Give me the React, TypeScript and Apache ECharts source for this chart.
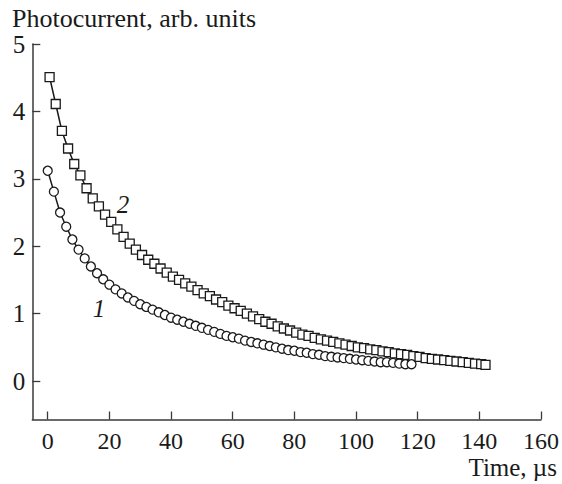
import React, { useEffect, useRef } from "react";
import * as echarts from "echarts";

// Curve 1 (circles): time in µs and photocurrent, arb. units
const curve1Time = [
  0, 2, 4, 6, 8, 10, 12, 14, 16, 18, 20, 22, 24, 26, 28, 30, 32, 34, 36, 38,
  40, 42, 44, 46, 48, 50, 52, 54, 56, 58, 60, 62, 64, 66, 68, 70, 72, 74, 76, 78,
  80, 82, 84, 86, 88, 90, 92, 94, 96, 98, 100, 102, 104, 106, 108, 110, 112, 114, 116, 118,
];
const curve1Current = [
  3.12, 2.81, 2.5, 2.29, 2.1, 1.95, 1.82, 1.7, 1.6, 1.51, 1.43, 1.36, 1.3, 1.24, 1.19, 1.14, 1.1, 1.06, 1.02, 0.98,
  0.94, 0.91, 0.88, 0.85, 0.82, 0.79, 0.76, 0.73, 0.7, 0.67, 0.65, 0.63, 0.6, 0.58, 0.56, 0.54, 0.52, 0.5, 0.48, 0.46,
  0.45, 0.43, 0.42, 0.4, 0.39, 0.37, 0.36, 0.35, 0.34, 0.33, 0.32, 0.31, 0.3, 0.29, 0.28, 0.28, 0.27, 0.26, 0.25, 0.25,
];

// Curve 2 (squares)
const curve2Time = [
  0.6, 2.6, 4.6, 6.6, 8.6, 10.6, 12.6, 14.6, 16.6, 18.6, 20.6, 22.6, 24.6, 26.6, 28.6, 30.6, 32.6, 34.6, 36.6, 38.6,
  40.6, 42.6, 44.6, 46.6, 48.6, 50.6, 52.6, 54.6, 56.6, 58.6, 60.6, 62.6, 64.6, 66.6, 68.6, 70.6, 72.6, 74.6, 76.6, 78.6,
  80.6, 82.6, 84.6, 86.6, 88.6, 90.6, 92.6, 94.6, 96.6, 98.6, 100.6, 102.6, 104.6, 106.6, 108.6, 110.6, 112.6, 114.6, 116.6, 118.6,
  120.6, 122.6, 124.6, 126.6, 128.6, 130.6, 132.6, 134.6, 136.6, 138.6, 140.6, 142,
];
const curve2Current = [
  4.51, 4.11, 3.71, 3.45, 3.22, 3.05, 2.86, 2.71, 2.59, 2.47, 2.36, 2.25, 2.14, 2.04, 1.95, 1.87, 1.8, 1.74, 1.67, 1.61,
  1.55, 1.5, 1.45, 1.4, 1.35, 1.3, 1.26, 1.21, 1.17, 1.12, 1.08, 1.04, 1.0, 0.96, 0.92, 0.88, 0.85, 0.81, 0.78, 0.75,
  0.72, 0.69, 0.67, 0.64, 0.62, 0.6, 0.58, 0.56, 0.54, 0.52, 0.5, 0.49, 0.47, 0.46, 0.44, 0.43, 0.41, 0.4, 0.39, 0.37,
  0.36, 0.34, 0.33, 0.32, 0.31, 0.3, 0.29, 0.28, 0.27, 0.26, 0.25, 0.24,
];

const xTicks = [0, 20, 40, 60, 80, 100, 120, 140, 160];
const yTicks = [0, 1, 2, 3, 4, 5];

const FONT = "Liberation Serif";
const INK = "#1a1a1a";
const AXIS = "#3a3a3a";

export default function App() {
  const ref = useRef<HTMLDivElement>(null);

  useEffect(() => {
    if (!ref.current) return;
    const chart = echarts.init(ref.current, undefined, { renderer: "svg" });

    const markerStyle = {
      color: "#ffffff",
      borderColor: INK,
      borderWidth: 1.3,
    };

    chart.setOption({
      animation: false,
      backgroundColor: "#ffffff",
      grid: { left: 32.3, right: 18.7, top: 44, bottom: 64.5, containLabel: false },
      xAxis: {
        type: "value",
        min: -5,
        max: 160,
        splitLine: { show: false },
        axisLine: { onZero: false, lineStyle: { color: AXIS, width: 1.5 } },
        axisTick: {
          inside: true,
          length: 8,
          customValues: xTicks,
          lineStyle: { color: AXIS, width: 1.3 },
        },
        axisLabel: {
          customValues: xTicks,
          margin: 12,
          lineHeight: 18,
          fontFamily: FONT,
          fontSize: 24,
          color: INK,
        },
      },
      yAxis: {
        type: "value",
        min: -0.57,
        max: 5,
        splitLine: { show: false },
        axisLine: { show: true, onZero: false, lineStyle: { color: AXIS, width: 1.5 } },
        axisTick: {
          show: true,
          inside: true,
          length: 8,
          customValues: yTicks,
          lineStyle: { color: AXIS, width: 1.3 },
        },
        axisLabel: {
          customValues: yTicks,
          margin: 7,
          fontFamily: FONT,
          fontSize: 25,
          color: INK,
        },
      },
      series: [
        {
          name: "2",
          type: "line",
          data: curve2Time.map((t, i) => [t, curve2Current[i]]),
          symbol: "rect",
          symbolSize: 9,
          showAllSymbol: true,
          lineStyle: { color: INK, width: 1.5 },
          itemStyle: markerStyle,
          z: 2,
        },
        {
          name: "1",
          type: "line",
          data: curve1Time.map((t, i) => [t, curve1Current[i]]),
          symbol: "circle",
          symbolSize: 9,
          showAllSymbol: true,
          lineStyle: { color: INK, width: 1.5 },
          itemStyle: markerStyle,
          z: 3,
        },
      ],
      graphic: [
        {
          type: "text",
          x: 12,
          y: 5,
          style: {
            text: "Photocurrent, arb. units",
            fontFamily: FONT,
            fontSize: 26,
            fill: INK,
            textAlign: "left",
            textVerticalAlign: "top",
          },
        },
        {
          type: "text",
          x: 557,
          y: 467,
          style: {
            text: "Time, µs",
            fontFamily: FONT,
            fontSize: 25,
            lineHeight: 18,
            fill: INK,
            textAlign: "right",
            textVerticalAlign: "middle",
          },
        },
        {
          type: "text",
          x: 123,
          y: 204,
          style: {
            text: "2",
            fontFamily: FONT,
            fontStyle: "italic",
            fontSize: 25,
            fill: INK,
            textAlign: "center",
            textVerticalAlign: "middle",
          },
        },
        {
          type: "text",
          x: 99,
          y: 308,
          style: {
            text: "1",
            fontFamily: FONT,
            fontStyle: "italic",
            fontSize: 25,
            fill: INK,
            textAlign: "center",
            textVerticalAlign: "middle",
          },
        },
      ],
    });

    return () => chart.dispose();
  }, []);

  return (
    <div
      ref={ref}
      style={{ position: "fixed", left: 0, top: 0, width: 562, height: 484, background: "#fff" }}
    />
  );
}
